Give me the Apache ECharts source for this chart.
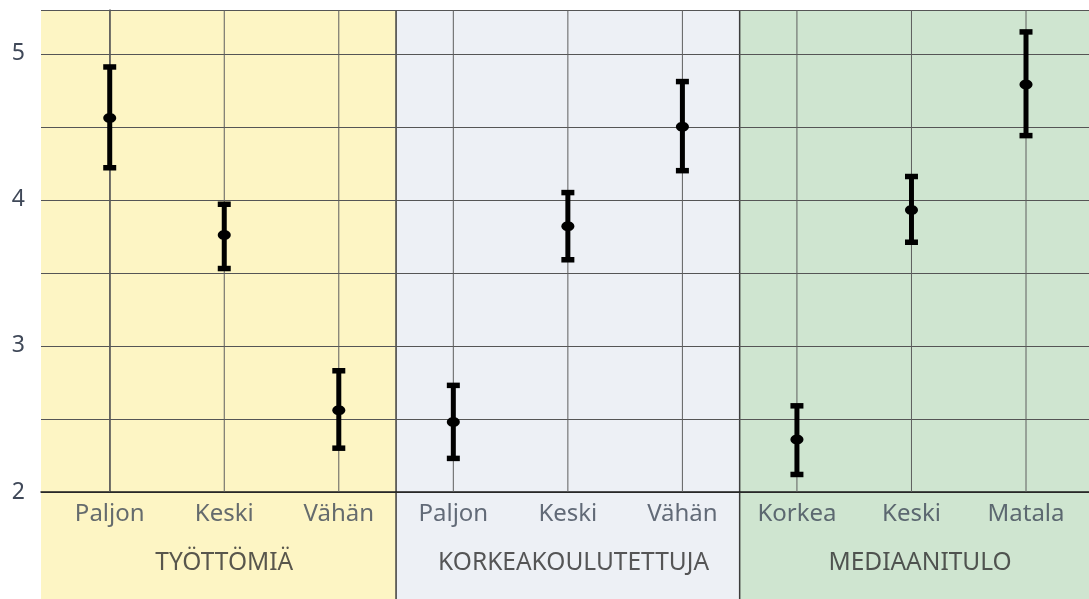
<!DOCTYPE html>
<html>
<head>
<meta charset="utf-8">
<script src="https://cdn.jsdelivr.net/npm/echarts@6/dist/echarts.min.js"></script>
<style>
  html, body { margin: 0; padding: 0; background: #fff; }
  #chart { width: 1089px; height: 599px; }
</style>
</head>
<body>
<div id="chart"></div>
<script>
// arvot luettu kuvasta
const categories = ['Paljon', 'Keski', 'Vähän', 'Paljon', 'Keski', 'Vähän', 'Korkea', 'Keski', 'Matala'];
const means = [4.56, 3.76, 2.56, 2.48, 3.82, 4.50, 2.36, 3.93, 4.79];
const lows = [4.22, 3.53, 2.30, 2.23, 3.59, 4.20, 2.12, 3.71, 4.44];
const highs = [4.91, 3.97, 2.83, 2.73, 4.05, 4.81, 2.59, 4.16, 5.15];
const groups = ['TYÖTTÖMIÄ', 'KORKEAKOULUTETTUJA', 'MEDIAANITULO'];
const groupSize = 3;
const groupColors = ['#fdf5c4', '#edf0f5', '#cfe5d0'];

const X_MIN = -0.6;
const X_MAX = 8.55;
const Y_MIN = 2;
const Y_MAX = 5.3;
const FONT = '"Noto Sans", "Open Sans", sans-serif';

const chart = echarts.init(document.getElementById('chart'));

// ryhmien taustat: [alku, loppu, ryhmä]
const bands = groups.map((g, i) => [
  i === 0 ? X_MIN : i * groupSize - 0.5,
  i === groups.length - 1 ? X_MAX : i * groupSize + groupSize - 0.5,
  i
]);

function renderBand(params, api) {
  const x0 = api.value(0);
  const x1 = api.value(1);
  const p0 = api.coord([x0, api.value(3)]);
  const p1 = api.coord([x1, api.value(4)]);
  const children = [{
    type: 'rect',
    shape: { x: p0[0], y: p0[1], width: p1[0] - p0[0], height: p1[1] - p0[1] },
    style: { fill: groupColors[api.value(2)] }
  }];
  if (api.value(2) > 0) {
    children.push({
      type: 'line',
      shape: { x1: p0[0], y1: p0[1], x2: p0[0], y2: p1[1] },
      style: { stroke: '#3c3c3c', lineWidth: 1.5 }
    });
  }
  return { type: 'group', children: children };
}

function renderBar(params, api) {
  const x = api.value(0);
  const mid = api.coord([x, api.value(1)]);
  const bot = api.coord([x, api.value(2)]);
  const top = api.coord([x, api.value(3)]);
  const gTop = api.coord([x, Y_MAX]);
  const gBot = api.coord([x, Y_MIN]);
  const capW = 13, capH = 5.5;
  return {
    type: 'group',
    children: [
      { type: 'line', shape: { x1: gTop[0], y1: gTop[1], x2: gBot[0], y2: gBot[1] },
        style: { stroke: '#5e5e5e', lineWidth: 1 } },
      { type: 'line', shape: { x1: top[0], y1: top[1], x2: bot[0], y2: bot[1] },
        style: { stroke: '#000', lineWidth: 5 } },
      { type: 'rect', shape: { x: top[0] - capW / 2, y: top[1] - capH / 2, width: capW, height: capH },
        style: { fill: '#000' } },
      { type: 'rect', shape: { x: bot[0] - capW / 2, y: bot[1] - capH / 2, width: capW, height: capH },
        style: { fill: '#000' } },
      { type: 'ellipse', shape: { cx: mid[0], cy: mid[1], rx: 6.5, ry: 5 },
        style: { fill: '#000' } }
    ]
  };
}

const option = {
  animation: false,
  backgroundColor: '#fff',
  grid: [
    { left: 41, right: 0, top: 10, bottom: 107 },
    { left: 41, right: 0, top: 492, bottom: 0 }
  ],
  xAxis: [
    {
      type: 'value', gridIndex: 0, min: X_MIN, max: X_MAX, z: 4,
      axisLine: { show: true, lineStyle: { color: '#1a1a1a', width: 1.5 } },
      axisTick: { show: false }, axisLabel: { show: false }, splitLine: { show: false }
    },
    { type: 'value', gridIndex: 1, min: X_MIN, max: X_MAX, show: false }
  ],
  yAxis: [
    {
      type: 'value', gridIndex: 0, min: Y_MIN, max: Y_MAX, interval: 0.5, z: 3,
      axisLine: { show: true, lineStyle: { color: '#555', width: 1.5 } },
      axisTick: { show: false },
      splitLine: { show: true, lineStyle: { color: '#555', width: 1 } },
      axisLabel: {
        margin: 16, fontSize: 23, fontFamily: FONT, color: '#3f4858',
        formatter: v => (Number.isInteger(v) ? String(v) : '')
      }
    },
    { type: 'value', gridIndex: 1, min: 0, max: 1, show: false }
  ],
  series: [
    {
      type: 'custom', xAxisIndex: 0, yAxisIndex: 0, z: 1, silent: true,
      renderItem: renderBand,
      encode: { x: [0, 1], y: [3, 4] },
      data: bands.map(b => [b[0], b[1], b[2], Y_MAX, Y_MIN])
    },
    {
      type: 'custom', xAxisIndex: 1, yAxisIndex: 1, z: 1, silent: true,
      renderItem: renderBand,
      encode: { x: [0, 1], y: [3, 4] },
      data: bands.map(b => [b[0], b[1], b[2], 1, 0])
    },
    {
      type: 'custom', xAxisIndex: 0, yAxisIndex: 0, z: 10,
      renderItem: renderBar,
      encode: { x: 0, y: [1, 2, 3] },
      data: categories.map((c, i) => [i, means[i], lows[i], highs[i]])
    },
    {
      type: 'scatter', xAxisIndex: 1, yAxisIndex: 1, z: 5, symbolSize: 0, silent: true,
      data: categories.map((c, i) => ({ name: c, value: [i, 0.79] })),
      label: {
        show: true, position: 'inside', formatter: '{b}',
        fontSize: 24, fontFamily: FONT, color: '#3f4858'
      }
    },
    {
      type: 'scatter', xAxisIndex: 1, yAxisIndex: 1, z: 5, symbolSize: 0, silent: true,
      data: groups.map((g, i) => ({ name: g, value: [(bands[i][0] + bands[i][1]) / 2 + 0.05, 0.34] })),
      label: {
        show: true, position: 'inside', formatter: '{b}',
        fontSize: 24.5, fontFamily: FONT, color: '#2e2e2e'
      }
    }
  ]
};

chart.setOption(option);
</script>
</body>
</html>
